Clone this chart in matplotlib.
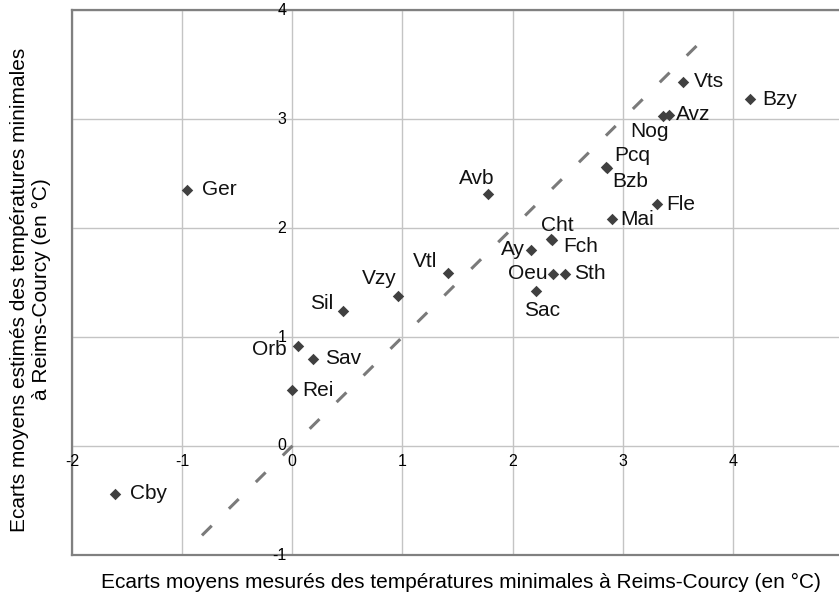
import numpy as np
import matplotlib
matplotlib.use('Agg')
import matplotlib.pyplot as plt

plt.rcParams['font.family'] = ['Liberation Sans', 'DejaVu Sans']

# stations: measured vs estimated mean minimum temperature deviations
stations = ['Ger', 'Vzy', 'Vts', 'Bzy', 'Avz', 'Nog', 'Pcq', 'Bzb', 'Avb', 'Fle',
            'Mai', 'Cht', 'Fch', 'Ay', 'Vtl', 'Oeu', 'Sth', 'Sac', 'Sil', 'Orb',
            'Sav', 'Rei', 'Cby']
measured = [-0.96, 0.96, 3.55, 4.16, 3.42, 3.37, 2.85, 2.86, 1.78, 3.31,
            2.90, 2.35, 2.36, 2.17, 1.41, 2.37, 2.48, 2.21, 0.46, 0.05,
            0.19, 0.00, -1.61]
estimated = [2.35, 1.38, 3.34, 3.18, 3.04, 3.03, 2.56, 2.55, 2.31, 2.22,
             2.08, 1.90, 1.89, 1.80, 1.59, 1.58, 1.58, 1.42, 1.24, 0.92,
             0.80, 0.51, -0.44]
diag = [-0.82, 3.7]
xticks = [-2, -1, 0, 1, 2, 3, 4, 5]
yticks = [-1, 0, 1, 2, 3, 4]

# label placement (offset in pixels, horizontal alignment)
label_pos = {
    'Ger': (15, 0, 'left'), 'Vzy': (-1, 17, 'right'), 'Vts': (11, 0, 'left'),
    'Bzy': (12, 0, 'left'), 'Avz': (7, 0, 'left'), 'Nog': (-14, -16, 'center'),
    'Pcq': (8, 11, 'left'), 'Bzb': (5, -13, 'left'), 'Avb': (-12, 16, 'center'),
    'Fle': (9, 0, 'left'), 'Mai': (9, 0, 'left'), 'Cht': (6, 13, 'center'),
    'Fch': (11, -7, 'left'), 'Ay': (-6, 0, 'right'), 'Vtl': (-10, 11, 'right'),
    'Oeu': (-6, 0, 'right'), 'Sth': (9, 0, 'left'), 'Sac': (6, -19, 'center'),
    'Sil': (-10, 7, 'right'), 'Orb': (-11, -4, 'right'), 'Sav': (12, 0, 'left'),
    'Rei': (10, 0, 'left'), 'Cby': (15, 0, 'left'),
}

fig = plt.figure(figsize=(8.39, 5.98), dpi=100)
ax = fig.add_axes([72 / 839, 43 / 598, 771 / 839, 545 / 598])
ax.set_xlim(-2, 5)
ax.set_ylim(-1, 4)
ax.set_xticks(xticks)
ax.set_yticks(yticks)
ax.grid(True, color='#c4c4c4', linewidth=1.0)
ax.set_axisbelow(True)
ax.tick_params(length=0, labelbottom=False, labelleft=False)
for s in ['left', 'bottom', 'top', 'right']:
    ax.spines[s].set_color('#808080')
    ax.spines[s].set_linewidth(1.6)

ax.plot(diag, diag, color='#7a7a7a', linewidth=2.2,
        linestyle=(0, (4.5, 7.9)), solid_capstyle='butt', zorder=2)

ax.scatter(measured, estimated, marker='D', s=34, color='#404040',
           linewidths=0, zorder=3)

for name, x, y in zip(stations, measured, estimated):
    dx, dy, ha = label_pos[name]
    ax.annotate(name, (x, y), xytext=(dx, dy), textcoords='offset pixels',
                ha=ha, va='center', fontsize=15, color='#111111', zorder=4)

# tick labels drawn along the zero lines
for t in xticks:
    ax.annotate(str(t), (t, 0), xytext=(0, -16), textcoords='offset pixels',
                ha='center', va='center', fontsize=11.5, annotation_clip=False)
for t in yticks:
    ax.annotate(str(t), (0, t), xytext=(-6, 0), textcoords='offset pixels',
                ha='right', va='center', fontsize=11.5, annotation_clip=False)

fig.text(461 / 839, 1 - 582 / 598,
         'Ecarts moyens mesurés des températures minimales à Reims-Courcy (en °C)',
         ha='center', va='center', fontsize=15)
fig.text(30.5 / 839, 1 - 289.5 / 598,
         'Ecarts moyens estimés des températures minimales\nà Reims-Courcy (en °C)',
         ha='center', va='center', rotation=90, fontsize=15,
         multialignment='center', linespacing=1.2)

fig.savefig('out.png', dpi=100)
